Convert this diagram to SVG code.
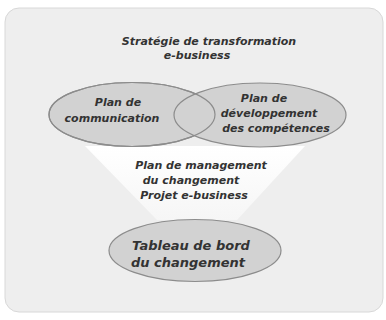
<svg xmlns="http://www.w3.org/2000/svg" width="386" height="320" viewBox="0 0 386 320">
<defs>
<style>
.t{font-family:"DejaVu Sans",Verdana,sans-serif;font-weight:bold;font-style:italic;fill:#333333;font-size:11px}
.e{fill:#d2d2d2;stroke:#8c8c8c;stroke-width:1.2}
.o{fill:none;stroke:#8c8c8c;stroke-width:1.2}
.big{font-size:13px}
</style>
<linearGradient id="fun" x1="0" y1="0" x2="0" y2="1">
<stop offset="0" stop-color="#ffffff"/>
<stop offset="1" stop-color="#f6f6f6"/>
</linearGradient>
</defs>
<rect x="0" y="0" width="386" height="320" fill="#ffffff"/>
<rect id="panel" x="5" y="8" width="378" height="304" rx="14" fill="#eeeeee" stroke="#d8d8d8" stroke-width="1"/>
<g id="funnel"><polygon points="85,146 305,146 237,220 157,220" fill="url(#fun)"/></g>
<g id="title"><text class="t" x="209" y="45" text-anchor="middle">Stratégie de transformation</text>
<text class="t" x="197" y="59" text-anchor="middle">e-business</text></g>
<g id="left"><ellipse class="e" cx="132" cy="114.5" rx="83" ry="32"/></g>
<g id="right"><ellipse class="e" cx="260" cy="115" rx="86" ry="32"/>
<ellipse class="o" cx="132" cy="114.5" rx="83" ry="32"/></g>
<g id="leftText"><text class="t" x="118" y="106" text-anchor="middle">Plan de</text>
<text class="t" x="112" y="122" text-anchor="middle">communication</text></g>
<g id="rightText"><text class="t" x="264" y="102" text-anchor="middle">Plan de</text>
<text class="t" x="269" y="117" text-anchor="middle">développement</text>
<text class="t" x="276" y="132" text-anchor="middle">des compétences</text></g>
<g id="middle"><text class="t" x="201" y="169" text-anchor="middle">Plan de management</text>
<text class="t" x="191" y="184" text-anchor="middle">du changement</text>
<text class="t" x="194" y="199" text-anchor="middle">Projet e-business</text></g>
<g id="bottom"><ellipse class="e" cx="195" cy="250.5" rx="86" ry="31"/>
<text class="t big" x="191" y="250" text-anchor="middle">Tableau de bord</text>
<text class="t big" x="188" y="267" text-anchor="middle">du changement</text></g>
</svg>
